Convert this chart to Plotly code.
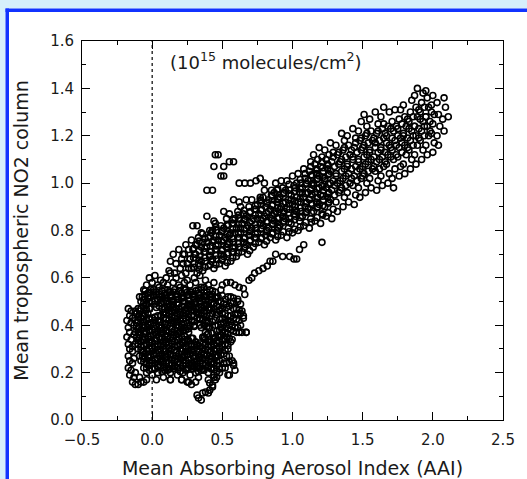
import plotly.graph_objects as go

# ---------------- data ----------------
# dense core of the cloud, upper half
core_hi_x = [-0.02, 0.02, 0.06, 0.10, 0.13, 0.17, 0.21, 0.25, 0.30, 0.34, 0.38,
             -0.04, 0.00, 0.04, 0.08, 0.11, 0.15, 0.19, 0.23, 0.27, 0.31, 0.35, 0.40, 0.44,
             -0.06, -0.02, 0.01, 0.05, 0.09, 0.12, 0.16, 0.20, 0.24, 0.28, 0.33, 0.37, 0.41, 0.45, 0.49,
             -0.09, -0.05, -0.01, 0.03, 0.07, 0.10, 0.14, 0.18, 0.22, 0.26, 0.30, 0.34, 0.38, 0.43, 0.47, 0.52, 0.56, 0.61,
             -0.08, -0.04, 0.00, 0.04, 0.08, 0.12, 0.15, 0.19, 0.23, 0.27, 0.31, 0.36, 0.40, 0.44, 0.49, 0.53, 0.58, 0.63,
             -0.10, -0.06, -0.02, 0.05, 0.09, 0.13, 0.17, 0.21, 0.25, 0.29, 0.33, 0.37, 0.42, 0.46, 0.50, 0.55, 0.60, 0.64,
             -0.11, -0.07, -0.03, 0.06, 0.10, 0.14, 0.18, 0.22, 0.26, 0.30, 0.35, 0.39, 0.43, 0.48, 0.52, 0.56, 0.61, 0.65,
             -0.12, -0.08, -0.04, 0.00, 0.04, 0.08, 0.12, 0.16, 0.20, 0.24, 0.28, 0.32, 0.36, 0.40, 0.45, 0.50, 0.54, 0.58, 0.62,
             -0.13, -0.09, -0.05, -0.01, 0.03, 0.07, 0.11, 0.15, 0.19, 0.23, 0.27, 0.37, 0.41, 0.47, 0.51, 0.55, 0.59, 0.63]
core_hi_y = [0.60, 0.61, 0.59, 0.60, 0.62, 0.60, 0.61, 0.59, 0.60, 0.61, 0.59,
             0.57, 0.58, 0.57, 0.58, 0.57, 0.58, 0.57, 0.58, 0.57, 0.58, 0.56, 0.57, 0.58,
             0.55, 0.54, 0.55, 0.56, 0.55, 0.54, 0.55, 0.56, 0.55, 0.54, 0.55, 0.56, 0.55, 0.54, 0.55,
             0.52, 0.53, 0.52, 0.53, 0.52, 0.53, 0.52, 0.53, 0.52, 0.53, 0.52, 0.53, 0.52, 0.53, 0.52, 0.51, 0.52, 0.51,
             0.50, 0.49, 0.50, 0.51, 0.50, 0.49, 0.50, 0.51, 0.50, 0.49, 0.50, 0.51, 0.50, 0.49, 0.50, 0.49, 0.50, 0.49,
             0.47, 0.48, 0.47, 0.48, 0.47, 0.48, 0.47, 0.48, 0.47, 0.48, 0.47, 0.48, 0.47, 0.48, 0.47, 0.48, 0.47, 0.46,
             0.45, 0.44, 0.45, 0.44, 0.45, 0.46, 0.45, 0.44, 0.45, 0.46, 0.45, 0.44, 0.45, 0.46, 0.45, 0.44, 0.45, 0.44,
             0.42, 0.43, 0.42, 0.43, 0.42, 0.43, 0.42, 0.43, 0.42, 0.43, 0.42, 0.43, 0.42, 0.41, 0.42, 0.43, 0.42, 0.43, 0.42,
             0.40, 0.39, 0.40, 0.41, 0.40, 0.39, 0.40, 0.41, 0.40, 0.39, 0.40, 0.40, 0.39, 0.40, 0.41, 0.40, 0.39, 0.40]

# dense core, lower half
core_lo_x = [-0.12, -0.08, -0.04, 0.00, 0.04, 0.08, 0.12, 0.16, 0.20, 0.24, 0.38, 0.48, 0.52, 0.56, 0.60, 0.64, 0.67,
             -0.11, -0.07, -0.03, 0.01, 0.05, 0.09, 0.13, 0.17, 0.21, 0.25, 0.37, 0.41, 0.45, 0.49, 0.53, 0.57,
             -0.12, -0.08, -0.04, 0.00, 0.04, 0.08, 0.12, 0.16, 0.20, 0.24, 0.28, 0.32, 0.36, 0.40, 0.44, 0.48, 0.52, 0.56,
             -0.10, -0.06, -0.02, 0.02, 0.06, 0.10, 0.14, 0.18, 0.22, 0.26, 0.30, 0.34, 0.38, 0.42, 0.46, 0.50, 0.54,
             -0.09, -0.05, -0.01, 0.03, 0.07, 0.11, 0.15, 0.19, 0.23, 0.27, 0.31, 0.35, 0.39, 0.43, 0.47, 0.51, 0.55,
             -0.08, -0.04, 0.00, 0.04, 0.08, 0.12, 0.16, 0.20, 0.24, 0.28, 0.32, 0.36, 0.40, 0.44, 0.48, 0.53, 0.57,
             -0.06, -0.02, 0.02, 0.06, 0.10, 0.14, 0.18, 0.22, 0.26, 0.30, 0.34, 0.38, 0.42, 0.46, 0.50, 0.58,
             -0.04, 0.00, 0.04, 0.09, 0.13, 0.18, 0.22, 0.27, 0.31, 0.35, 0.40, 0.44, 0.48, 0.55,
             0.03, 0.08, 0.13, 0.21, 0.26, 0.33, 0.40, 0.46,
             0.30, 0.34, 0.29, 0.37, 0.31]
core_lo_y = [0.37, 0.38, 0.37, 0.38, 0.37, 0.38, 0.37, 0.38, 0.37, 0.38, 0.37, 0.38, 0.37, 0.38, 0.37, 0.37, 0.37,
             0.35, 0.34, 0.35, 0.36, 0.35, 0.34, 0.35, 0.36, 0.35, 0.34, 0.35, 0.34, 0.35, 0.36, 0.35, 0.34,
             0.32, 0.33, 0.32, 0.33, 0.32, 0.33, 0.32, 0.33, 0.32, 0.31, 0.32, 0.32, 0.32, 0.33, 0.32, 0.33, 0.32, 0.33,
             0.30, 0.29, 0.30, 0.31, 0.30, 0.29, 0.30, 0.31, 0.30, 0.29, 0.30, 0.31, 0.30, 0.29, 0.30, 0.31, 0.30,
             0.27, 0.28, 0.27, 0.28, 0.27, 0.28, 0.27, 0.28, 0.27, 0.28, 0.27, 0.28, 0.27, 0.28, 0.27, 0.28, 0.27,
             0.25, 0.24, 0.25, 0.26, 0.25, 0.24, 0.25, 0.26, 0.25, 0.24, 0.25, 0.26, 0.25, 0.24, 0.25, 0.24, 0.25,
             0.22, 0.23, 0.22, 0.23, 0.22, 0.23, 0.22, 0.23, 0.22, 0.23, 0.22, 0.23, 0.22, 0.23, 0.22, 0.23,
             0.20, 0.19, 0.20, 0.21, 0.20, 0.19, 0.20, 0.19, 0.20, 0.21, 0.20, 0.19, 0.20, 0.19,
             0.17, 0.18, 0.17, 0.17, 0.16, 0.18, 0.17, 0.18,
             0.395, 0.40, 0.345, 0.345, 0.33]

# extra points filling the darkest part of the core
core_fill_x = [-0.03, 0.01, 0.05, 0.09, 0.13, 0.17, 0.21, 0.25, 0.29, 0.33, 0.37, 0.41,
               -0.06, -0.02, 0.02, 0.06, 0.10, 0.14, 0.18, 0.22, 0.26, 0.30, 0.34, 0.38, 0.42, 0.46,
               -0.04, 0.07, 0.11, 0.15, 0.19, 0.23, 0.27, 0.31, 0.35, 0.39, 0.44,
               -0.09, -0.05, 0.08, 0.12, 0.16, 0.20, 0.24, 0.28, 0.32, 0.37, 0.41, 0.46,
               -0.10, -0.06, -0.02, 0.02, 0.06, 0.10, 0.14, 0.18, 0.22, 0.26, 0.30, 0.34, 0.38,
               -0.11, -0.07, -0.03, 0.01, 0.05, 0.09, 0.13, 0.17, 0.21, 0.25, 0.39, 0.49, 0.53,
               -0.10, -0.06, -0.02, 0.02, 0.06, 0.10, 0.14, 0.18, 0.22, 0.26, 0.40, 0.50, 0.54,
               -0.09, -0.05, -0.01, 0.03, 0.07, 0.11, 0.15, 0.19, 0.23, 0.39, 0.43, 0.47,
               -0.10, -0.06, -0.02, 0.02, 0.06, 0.10, 0.14, 0.18, 0.22, 0.26, 0.38, 0.42, 0.46, 0.50,
               -0.08, -0.04, 0.00, 0.04, 0.08, 0.12, 0.16, 0.20, 0.24, 0.28, 0.32, 0.36, 0.40, 0.44, 0.48,
               -0.07, -0.03, 0.01, 0.05, 0.09, 0.13, 0.17, 0.21, 0.25, 0.29, 0.33, 0.37, 0.41, 0.45,
               -0.06, -0.02, 0.02, 0.06, 0.10, 0.14, 0.18, 0.22, 0.26, 0.30, 0.34, 0.38, 0.42, 0.46,
               -0.04, 0.00, 0.04, 0.08, 0.12, 0.16, 0.20, 0.24, 0.28, 0.32, 0.36, 0.40, 0.44,
               -0.02, 0.02, 0.07, 0.11, 0.15, 0.20, 0.24, 0.29, 0.33, 0.37, 0.42, 0.46]
core_fill_y = [0.535, 0.54, 0.53, 0.535, 0.54, 0.53, 0.535, 0.54, 0.53, 0.535, 0.54, 0.53,
               0.51, 0.515, 0.505, 0.51, 0.515, 0.505, 0.51, 0.515, 0.505, 0.51, 0.515, 0.505, 0.51, 0.515,
               0.485, 0.49, 0.48, 0.485, 0.49, 0.48, 0.485, 0.49, 0.48, 0.485, 0.49,
               0.46, 0.465, 0.455, 0.46, 0.465, 0.455, 0.46, 0.465, 0.455, 0.46, 0.465, 0.455,
               0.435, 0.44, 0.43, 0.435, 0.44, 0.43, 0.435, 0.44, 0.43, 0.435, 0.44, 0.43, 0.435,
               0.41, 0.415, 0.405, 0.41, 0.415, 0.405, 0.41, 0.415, 0.405, 0.41, 0.415, 0.405, 0.41,
               0.385, 0.39, 0.38, 0.385, 0.39, 0.38, 0.385, 0.39, 0.38, 0.385, 0.39, 0.38, 0.385,
               0.36, 0.365, 0.355, 0.36, 0.365, 0.355, 0.36, 0.365, 0.355, 0.36, 0.365, 0.355,
               0.335, 0.34, 0.33, 0.335, 0.34, 0.33, 0.335, 0.34, 0.33, 0.335, 0.34, 0.33, 0.335, 0.34,
               0.31, 0.315, 0.305, 0.31, 0.315, 0.305, 0.31, 0.315, 0.305, 0.31, 0.315, 0.305, 0.31, 0.315, 0.305,
               0.285, 0.29, 0.28, 0.285, 0.29, 0.28, 0.285, 0.29, 0.28, 0.285, 0.29, 0.28, 0.285, 0.29,
               0.26, 0.265, 0.255, 0.26, 0.265, 0.255, 0.26, 0.265, 0.255, 0.26, 0.265, 0.255, 0.26, 0.265,
               0.235, 0.24, 0.23, 0.235, 0.24, 0.23, 0.235, 0.24, 0.23, 0.235, 0.24, 0.23, 0.235,
               0.21, 0.215, 0.205, 0.21, 0.215, 0.205, 0.21, 0.215, 0.205, 0.21, 0.215, 0.205]

# second layer of fill where the core is solid black
core_fill2_x = [-0.05, -0.01, 0.03, 0.07, 0.11, 0.15, 0.19, 0.23, 0.27, 0.31, 0.35, 0.39, 0.43,
                -0.07, -0.03, 0.01, 0.05, 0.09, 0.13, 0.17, 0.21, 0.25, 0.29, 0.33, 0.37, 0.41, 0.45, 0.50, 0.54, 0.58,
                -0.06, -0.02, 0.02, 0.06, 0.10, 0.14, 0.18, 0.22, 0.26, 0.30, 0.34, 0.38, 0.42, 0.47, 0.51, 0.56, 0.61,
                -0.08, -0.04, 0.03, 0.07, 0.11, 0.15, 0.19, 0.23, 0.27, 0.31, 0.35, 0.40, 0.44, 0.48, 0.53, 0.58, 0.62,
                -0.09, -0.05, 0.04, 0.08, 0.12, 0.16, 0.20, 0.24, 0.28, 0.33, 0.37, 0.41, 0.46, 0.50, 0.54, 0.59, 0.63,
                -0.10, -0.06, -0.02, 0.02, 0.06, 0.10, 0.14, 0.18, 0.22, 0.26, 0.30, 0.34, 0.38, 0.43, 0.48, 0.52, 0.56, 0.60,
                -0.11, -0.07, -0.03, 0.01, 0.05, 0.09, 0.13, 0.17, 0.21, 0.25, 0.30, 0.35, 0.39, 0.45, 0.49, 0.53, 0.57, 0.61,
                -0.10, -0.06, -0.02, 0.02, 0.06, 0.10, 0.14, 0.18, 0.22, 0.26, 0.40, 0.46, 0.50, 0.54, 0.58, 0.62,
                -0.09, -0.05, -0.01, 0.03, 0.07, 0.11, 0.15, 0.19, 0.23, 0.28, 0.36, 0.40, 0.44, 0.48, 0.52, 0.55,
                -0.10, -0.06, -0.02, 0.02, 0.06, 0.10, 0.14, 0.18, 0.22, 0.26, 0.30, 0.34, 0.38, 0.42, 0.46, 0.50, 0.54,
                -0.08, -0.04, 0.00, 0.04, 0.08, 0.12, 0.16, 0.20, 0.24, 0.28, 0.32, 0.36, 0.40, 0.44, 0.48, 0.52,
                -0.07, -0.03, 0.01, 0.05, 0.09, 0.13, 0.17, 0.21, 0.25, 0.29, 0.33, 0.37, 0.41, 0.45, 0.49, 0.53,
                -0.06, -0.02, 0.02, 0.06, 0.10, 0.14, 0.18, 0.22, 0.26, 0.30, 0.34, 0.38, 0.42, 0.46, 0.51, 0.55,
                -0.04, 0.00, 0.04, 0.08, 0.12, 0.16, 0.20, 0.24, 0.28, 0.32, 0.36, 0.40, 0.44, 0.48]
core_fill2_y = [0.545, 0.55, 0.54, 0.545, 0.55, 0.54, 0.545, 0.55, 0.54, 0.545, 0.55, 0.54, 0.545,
                0.52, 0.515, 0.525, 0.52, 0.515, 0.525, 0.52, 0.515, 0.525, 0.52, 0.515, 0.525, 0.52, 0.515, 0.525, 0.52, 0.515,
                0.495, 0.50, 0.49, 0.495, 0.50, 0.49, 0.495, 0.50, 0.49, 0.495, 0.50, 0.49, 0.495, 0.50, 0.49, 0.495, 0.50,
                0.47, 0.465, 0.475, 0.47, 0.465, 0.475, 0.47, 0.465, 0.475, 0.47, 0.465, 0.475, 0.47, 0.465, 0.475, 0.47, 0.465,
                0.445, 0.45, 0.44, 0.445, 0.45, 0.44, 0.445, 0.45, 0.44, 0.445, 0.45, 0.44, 0.445, 0.45, 0.44, 0.445, 0.45,
                0.42, 0.415, 0.425, 0.42, 0.415, 0.425, 0.42, 0.415, 0.425, 0.42, 0.415, 0.425, 0.42, 0.415, 0.425, 0.42, 0.415, 0.425,
                0.395, 0.40, 0.39, 0.395, 0.40, 0.39, 0.395, 0.40, 0.39, 0.395, 0.40, 0.39, 0.395, 0.40, 0.39, 0.395, 0.40, 0.39,
                0.37, 0.365, 0.375, 0.37, 0.365, 0.375, 0.37, 0.365, 0.375, 0.37, 0.365, 0.375, 0.37, 0.365, 0.375, 0.37,
                0.345, 0.35, 0.34, 0.345, 0.35, 0.34, 0.345, 0.35, 0.34, 0.345, 0.35, 0.34, 0.345, 0.35, 0.34, 0.345,
                0.32, 0.315, 0.325, 0.32, 0.315, 0.325, 0.32, 0.315, 0.325, 0.32, 0.315, 0.325, 0.32, 0.315, 0.325, 0.32, 0.315,
                0.295, 0.30, 0.29, 0.295, 0.30, 0.29, 0.295, 0.30, 0.29, 0.295, 0.30, 0.29, 0.295, 0.30, 0.29, 0.295,
                0.27, 0.265, 0.275, 0.27, 0.265, 0.275, 0.27, 0.265, 0.275, 0.27, 0.265, 0.275, 0.27, 0.265, 0.275, 0.27,
                0.245, 0.25, 0.24, 0.245, 0.25, 0.24, 0.245, 0.25, 0.24, 0.245, 0.25, 0.24, 0.245, 0.25, 0.24, 0.245,
                0.22, 0.215, 0.225, 0.22, 0.215, 0.225, 0.22, 0.215, 0.225, 0.22, 0.215, 0.225, 0.22, 0.215]

# left-hand column and low points of the cloud
edge_x = [-0.17, -0.15, -0.16, -0.18, -0.15, -0.17, -0.16, -0.18, -0.15, -0.17, -0.16, -0.14, -0.17,
          -0.16, -0.14, -0.17, -0.15, -0.16, -0.13, -0.14, -0.12, -0.10, -0.08, -0.06, -0.04, -0.09,
          -0.12, -0.13, -0.14, -0.13, -0.14, -0.12,
          0.13, 0.21, 0.25, 0.28, 0.31,
          0.32, 0.33, 0.36, 0.38, 0.40, 0.41, 0.43, 0.43, 0.41, 0.45, 0.44, 0.35,
          0.50, 0.53, 0.56, 0.59, 0.62, 0.65, 0.66, 0.58, 0.59, 0.54, 0.52, 0.65, 0.67]
edge_y = [0.47, 0.46, 0.44, 0.42, 0.41, 0.39, 0.37, 0.35, 0.34, 0.32, 0.30, 0.29, 0.27,
          0.25, 0.24, 0.22, 0.21, 0.19, 0.18, 0.16, 0.15, 0.15, 0.16, 0.16, 0.17, 0.18,
          0.20, 0.26, 0.31, 0.36, 0.43, 0.46,
          0.17, 0.17, 0.16, 0.15, 0.16,
          0.105, 0.093, 0.114, 0.118, 0.114, 0.126, 0.139, 0.147, 0.156, 0.17, 0.18, 0.084,
          0.57, 0.58, 0.58, 0.57, 0.56, 0.555, 0.53, 0.24, 0.21, 0.19, 0.22, 0.43, 0.37]

# main rising band (x, y pairs)
band_pts = [
    (0.12, 0.63), (0.13, 0.67), (0.16, 0.62), (0.17, 0.66), (0.15, 0.70),
    (0.20, 0.64), (0.21, 0.68), (0.19, 0.72), (0.24, 0.62), (0.25, 0.66), (0.23, 0.70), (0.24, 0.74),
    (0.28, 0.64), (0.27, 0.68), (0.29, 0.72), (0.28, 0.76),
    (0.32, 0.62), (0.33, 0.66), (0.31, 0.70), (0.32, 0.74), (0.33, 0.77),
    (0.36, 0.63), (0.35, 0.67), (0.37, 0.71), (0.36, 0.75), (0.35, 0.79),
    (0.40, 0.65), (0.41, 0.69), (0.39, 0.73), (0.40, 0.77), (0.41, 0.80),
    (0.44, 0.64), (0.43, 0.68), (0.45, 0.72), (0.44, 0.76), (0.43, 0.80), (0.45, 0.83),
    (0.48, 0.66), (0.49, 0.70), (0.47, 0.74), (0.48, 0.78), (0.49, 0.82),
    (0.52, 0.65), (0.51, 0.69), (0.53, 0.73), (0.52, 0.77), (0.51, 0.81), (0.53, 0.85),
    (0.56, 0.67), (0.57, 0.71), (0.55, 0.75), (0.56, 0.79), (0.57, 0.83), (0.55, 0.87),
    (0.60, 0.69), (0.59, 0.73), (0.61, 0.77), (0.60, 0.81), (0.59, 0.85), (0.61, 0.88),
    (0.64, 0.71), (0.65, 0.75), (0.63, 0.79), (0.64, 0.83), (0.65, 0.87), (0.63, 0.90),
    (0.68, 0.70), (0.67, 0.74), (0.69, 0.78), (0.68, 0.82), (0.67, 0.86), (0.69, 0.90),
    (0.72, 0.73), (0.73, 0.77), (0.71, 0.81), (0.72, 0.85), (0.73, 0.89), (0.71, 0.93),
    (0.76, 0.75), (0.75, 0.79), (0.77, 0.83), (0.76, 0.87), (0.75, 0.91), (0.77, 0.94),
    (0.80, 0.74), (0.81, 0.78), (0.79, 0.82), (0.80, 0.86), (0.81, 0.90), (0.79, 0.94), (0.80, 0.97),
    (0.84, 0.77), (0.83, 0.81), (0.85, 0.85), (0.84, 0.89), (0.83, 0.93), (0.85, 0.97),
    (0.88, 0.76), (0.89, 0.80), (0.87, 0.84), (0.88, 0.88), (0.89, 0.92), (0.87, 0.96), (0.88, 1.00),
    (0.92, 0.78), (0.91, 0.82), (0.93, 0.86), (0.92, 0.90), (0.91, 0.94), (0.93, 0.98), (0.92, 1.01),
    (0.96, 0.77), (0.97, 0.81), (0.95, 0.85), (0.96, 0.89), (0.97, 0.93), (0.95, 0.97), (0.96, 1.01),
    (1.00, 0.79), (0.99, 0.83), (1.01, 0.87), (1.00, 0.91), (0.99, 0.95), (1.01, 0.99), (1.00, 1.03),
    (1.04, 0.80), (1.05, 0.84), (1.03, 0.88), (1.04, 0.92), (1.05, 0.96), (1.03, 1.00), (1.04, 1.04),
    (1.08, 0.82), (1.07, 0.86), (1.09, 0.90), (1.08, 0.94), (1.07, 0.98), (1.09, 1.02), (1.08, 1.06),
    (1.12, 0.81), (1.13, 0.85), (1.11, 0.89), (1.12, 0.93), (1.13, 0.97), (1.11, 1.01), (1.12, 1.05), (1.13, 1.09),
    (1.16, 0.84), (1.15, 0.88), (1.17, 0.92), (1.16, 0.96), (1.15, 1.00), (1.17, 1.04), (1.16, 1.08), (1.15, 1.12),
    (1.20, 0.83), (1.21, 0.87), (1.19, 0.91), (1.20, 0.95), (1.21, 0.99), (1.19, 1.03), (1.20, 1.07), (1.21, 1.11), (1.19, 1.15),
    (1.24, 0.86), (1.23, 0.90), (1.25, 0.94), (1.24, 0.98), (1.23, 1.02), (1.25, 1.06), (1.24, 1.10), (1.23, 1.14),
    (1.28, 0.85), (1.29, 0.89), (1.27, 0.93), (1.28, 0.97), (1.29, 1.01), (1.27, 1.05), (1.28, 1.09), (1.29, 1.13), (1.27, 1.17),
    (1.32, 0.88), (1.31, 0.92), (1.33, 0.96), (1.32, 1.00), (1.31, 1.04), (1.33, 1.08), (1.32, 1.12), (1.31, 1.16),
    (1.36, 0.90), (1.37, 0.94), (1.35, 0.98), (1.36, 1.02), (1.37, 1.06), (1.35, 1.10), (1.36, 1.14), (1.37, 1.18), (1.35, 1.21),
    (1.40, 0.92), (1.39, 0.96), (1.41, 1.00), (1.40, 1.04), (1.39, 1.08), (1.41, 1.12), (1.40, 1.16), (1.39, 1.20),
    (1.44, 0.91), (1.45, 0.95), (1.43, 0.99), (1.44, 1.03), (1.45, 1.07), (1.43, 1.11), (1.44, 1.15), (1.45, 1.19), (1.43, 1.23),
    (1.48, 0.94), (1.47, 0.98), (1.49, 1.02), (1.48, 1.06), (1.47, 1.10), (1.49, 1.14), (1.48, 1.18), (1.47, 1.22), (1.49, 1.26),
    (1.52, 0.96), (1.53, 1.00), (1.51, 1.04), (1.52, 1.08), (1.53, 1.12), (1.51, 1.16), (1.52, 1.20), (1.53, 1.24), (1.51, 1.29),
    (1.56, 0.98), (1.55, 1.02), (1.57, 1.06), (1.56, 1.10), (1.55, 1.14), (1.57, 1.18), (1.56, 1.22), (1.55, 1.27),
    (1.60, 0.97), (1.61, 1.01), (1.59, 1.05), (1.60, 1.09), (1.61, 1.13), (1.59, 1.17), (1.60, 1.21), (1.61, 1.25), (1.59, 1.30),
    (1.64, 0.99), (1.63, 1.03), (1.65, 1.07), (1.64, 1.11), (1.63, 1.15), (1.65, 1.19), (1.64, 1.23), (1.63, 1.28), (1.65, 1.32),
    (1.68, 1.00), (1.69, 1.04), (1.67, 1.08), (1.68, 1.12), (1.69, 1.16), (1.67, 1.20), (1.68, 1.24), (1.69, 1.30),
    (1.72, 0.98), (1.71, 1.02), (1.73, 1.06), (1.72, 1.10), (1.71, 1.14), (1.73, 1.18), (1.72, 1.22), (1.71, 1.26), (1.73, 1.31),
    (1.76, 1.03), (1.77, 1.07), (1.75, 1.11), (1.76, 1.15), (1.77, 1.19), (1.75, 1.23), (1.76, 1.27), (1.77, 1.31),
    (1.80, 1.04), (1.79, 1.08), (1.81, 1.12), (1.80, 1.16), (1.79, 1.20), (1.81, 1.24), (1.80, 1.28), (1.79, 1.33),
    (1.84, 1.06), (1.85, 1.10), (1.83, 1.14), (1.84, 1.18), (1.85, 1.22), (1.83, 1.26), (1.84, 1.30), (1.85, 1.35),
    (1.88, 1.08), (1.87, 1.12), (1.89, 1.16), (1.88, 1.20), (1.87, 1.24), (1.89, 1.28), (1.88, 1.32), (1.87, 1.37), (1.89, 1.40),
    (1.92, 1.10), (1.93, 1.14), (1.91, 1.18), (1.92, 1.22), (1.93, 1.26), (1.91, 1.30), (1.92, 1.34), (1.93, 1.38),
    (1.96, 1.12), (1.95, 1.16), (1.97, 1.20), (1.96, 1.24), (1.95, 1.28), (1.97, 1.32), (1.96, 1.36), (1.95, 1.39),
    (2.00, 1.13), (2.01, 1.17), (1.99, 1.21), (2.00, 1.25), (2.01, 1.29), (1.99, 1.33), (2.00, 1.37),
    (2.04, 1.16), (2.03, 1.20), (2.05, 1.24), (2.04, 1.29), (2.03, 1.34),
    (2.08, 1.22), (2.07, 1.27), (2.09, 1.32), (2.08, 1.36), (2.11, 1.28),
]

# denser ridge in the middle of the band (x, y pairs)
ridge_pts = [
    (0.22, 0.66), (0.22, 0.70), (0.26, 0.64), (0.27, 0.68), (0.26, 0.72),
    (0.30, 0.66), (0.30, 0.70), (0.31, 0.74), (0.34, 0.65), (0.34, 0.69), (0.35, 0.73),
    (0.38, 0.67), (0.38, 0.71), (0.39, 0.75), (0.42, 0.67), (0.42, 0.71), (0.43, 0.75), (0.42, 0.79),
    (0.46, 0.68), (0.46, 0.72), (0.47, 0.76), (0.46, 0.80), (0.50, 0.68), (0.50, 0.72), (0.51, 0.76), (0.50, 0.80),
    (0.54, 0.70), (0.54, 0.74), (0.55, 0.78), (0.54, 0.82), (0.58, 0.71), (0.58, 0.75), (0.59, 0.79), (0.58, 0.83),
    (0.62, 0.73), (0.62, 0.77), (0.63, 0.81), (0.62, 0.85), (0.66, 0.73), (0.66, 0.77), (0.67, 0.81), (0.66, 0.85),
    (0.70, 0.76), (0.70, 0.80), (0.71, 0.84), (0.70, 0.88), (0.74, 0.77), (0.74, 0.81), (0.75, 0.85), (0.74, 0.89),
    (0.78, 0.77), (0.78, 0.81), (0.79, 0.85), (0.78, 0.89), (0.77, 0.93),
    (0.82, 0.80), (0.82, 0.84), (0.83, 0.88), (0.82, 0.92), (0.86, 0.79), (0.86, 0.83), (0.87, 0.87), (0.86, 0.91), (0.85, 0.95),
    (0.90, 0.81), (0.90, 0.85), (0.91, 0.89), (0.90, 0.93), (0.89, 0.97), (0.94, 0.84), (0.94, 0.88), (0.95, 0.92), (0.94, 0.96),
    (0.98, 0.85), (0.98, 0.89), (0.99, 0.93), (0.98, 0.97), (1.02, 0.86), (1.02, 0.90), (1.03, 0.94), (1.02, 0.98),
    (1.06, 0.88), (1.06, 0.92), (1.07, 0.96), (1.06, 1.00), (1.10, 0.88), (1.10, 0.92), (1.11, 0.96), (1.10, 1.00), (1.09, 1.04),
    (1.14, 0.91), (1.14, 0.95), (1.15, 0.99), (1.14, 1.03), (1.13, 1.07),
    (1.18, 0.90), (1.18, 0.94), (1.19, 0.98), (1.18, 1.02), (1.17, 1.06), (1.18, 1.10),
    (1.22, 0.93), (1.22, 0.97), (1.23, 1.01), (1.22, 1.05), (1.21, 1.09),
    (1.26, 0.92), (1.26, 0.96), (1.27, 1.00), (1.26, 1.04), (1.25, 1.08), (1.26, 1.12),
    (1.30, 0.95), (1.30, 0.99), (1.31, 1.03), (1.30, 1.07), (1.29, 1.11),
    (1.34, 0.97), (1.34, 1.01), (1.35, 1.05), (1.34, 1.09), (1.33, 1.13),
    (1.38, 0.99), (1.38, 1.03), (1.39, 1.07), (1.38, 1.11), (1.37, 1.15),
    (1.42, 1.02), (1.42, 1.06), (1.43, 1.10), (1.42, 1.14),
    (1.46, 1.01), (1.46, 1.05), (1.47, 1.09), (1.46, 1.13), (1.45, 1.17),
    (1.50, 1.03), (1.50, 1.07), (1.51, 1.11), (1.50, 1.15), (1.49, 1.19),
    (1.54, 1.05), (1.54, 1.09), (1.55, 1.13), (1.54, 1.17), (1.53, 1.21),
    (1.58, 1.07), (1.58, 1.11), (1.59, 1.15), (1.58, 1.19),
    (1.62, 1.06), (1.62, 1.10), (1.63, 1.14), (1.62, 1.18), (1.61, 1.22),
    (1.66, 1.09), (1.66, 1.13), (1.67, 1.17), (1.66, 1.21), (1.65, 1.25),
    (1.70, 1.11), (1.70, 1.15), (1.71, 1.19), (1.70, 1.23), (1.74, 1.12), (1.74, 1.16), (1.75, 1.20), (1.74, 1.24),
    (1.78, 1.13), (1.78, 1.17), (1.79, 1.21), (1.78, 1.25), (1.82, 1.15), (1.82, 1.19), (1.83, 1.23), (1.82, 1.27),
    (1.86, 1.16), (1.86, 1.20), (1.87, 1.24), (1.86, 1.28), (1.90, 1.19), (1.90, 1.23), (1.91, 1.27), (1.90, 1.31),
    (1.94, 1.20), (1.94, 1.24), (1.95, 1.28), (1.94, 1.32), (1.98, 1.22), (1.98, 1.26), (1.99, 1.30),
]

# darkest stretch of the band, between AAI 0.3 and 1.25
dark_band_x = [0.295, 0.295, 0.295,
               0.335, 0.335, 0.335, 0.335,
               0.375, 0.375, 0.375, 0.375,
               0.415, 0.415, 0.415, 0.415,
               0.455, 0.455, 0.455, 0.455, 0.455,
               0.495, 0.495, 0.495, 0.495,
               0.535, 0.535, 0.535, 0.535, 0.535,
               0.575, 0.575, 0.575, 0.575, 0.575,
               0.615, 0.615, 0.615, 0.615, 0.615,
               0.655, 0.655, 0.655, 0.655, 0.655,
               0.695, 0.695, 0.695, 0.695, 0.695,
               0.735, 0.735, 0.735, 0.735, 0.735,
               0.775, 0.775, 0.775, 0.775, 0.775,
               0.815, 0.815, 0.815, 0.815, 0.815,
               0.855, 0.855, 0.855, 0.855, 0.855,
               0.895, 0.895, 0.895, 0.895, 0.895, 0.895,
               0.935, 0.935, 0.935, 0.935, 0.935,
               0.975, 0.975, 0.975, 0.975, 0.975, 0.975,
               1.015, 1.015, 1.015, 1.015, 1.015,
               1.055, 1.055, 1.055, 1.055, 1.055, 1.055,
               1.095, 1.095, 1.095, 1.095, 1.095,
               1.135, 1.135, 1.135, 1.135, 1.135, 1.135,
               1.175, 1.175, 1.175, 1.175, 1.175, 1.175,
               1.215, 1.215, 1.215, 1.215, 1.215, 1.215,
               1.255, 1.255, 1.255, 1.255, 1.255, 1.255]
dark_band_y = [0.645, 0.685, 0.725,
               0.635, 0.675, 0.715, 0.755,
               0.645, 0.685, 0.725, 0.765,
               0.655, 0.695, 0.735, 0.775,
               0.655, 0.695, 0.735, 0.775, 0.815,
               0.675, 0.715, 0.755, 0.795,
               0.665, 0.705, 0.745, 0.785, 0.825,
               0.685, 0.725, 0.765, 0.805, 0.845,
               0.705, 0.745, 0.785, 0.825, 0.865,
               0.725, 0.765, 0.805, 0.845, 0.885,
               0.715, 0.755, 0.795, 0.835, 0.875,
               0.745, 0.785, 0.825, 0.865, 0.905,
               0.765, 0.805, 0.845, 0.885, 0.925,
               0.755, 0.795, 0.835, 0.875, 0.915,
               0.785, 0.825, 0.865, 0.905, 0.945,
               0.775, 0.815, 0.855, 0.895, 0.935, 0.975,
               0.795, 0.835, 0.875, 0.915, 0.955,
               0.795, 0.835, 0.875, 0.915, 0.955, 0.995,
               0.805, 0.845, 0.885, 0.925, 0.965,
               0.815, 0.855, 0.895, 0.935, 0.975, 1.015,
               0.835, 0.875, 0.915, 0.955, 0.995,
               0.835, 0.875, 0.915, 0.955, 0.995, 1.035,
               0.855, 0.895, 0.935, 0.975, 1.015, 1.055,
               0.865, 0.905, 0.945, 0.985, 1.025, 1.065,
               0.875, 0.915, 0.955, 0.995, 1.035, 1.075]

# scattered points above and below the band
stray_pts = [
    (0.45, 1.12), (0.47, 1.12), (0.44, 1.07), (0.51, 1.07), (0.55, 1.09), (0.58, 1.09),
    (0.49, 1.03), (0.51, 1.03), (0.62, 1.00), (0.66, 1.00), (0.70, 1.00), (0.74, 1.01),
    (0.77, 1.02), (0.80, 1.00), (0.39, 0.97), (0.43, 0.97), (0.58, 0.93), (0.62, 0.92),
    (0.67, 0.93), (0.51, 0.88), (0.39, 0.86), (0.44, 0.84), (0.29, 0.82), (0.32, 0.82),
    (0.36, 0.785), (0.43, 0.80),
    (0.69, 0.59), (0.71, 0.60), (0.73, 0.62), (0.76, 0.63), (0.79, 0.64), (0.82, 0.65),
    (0.84, 0.67), (0.86, 0.67), (0.88, 0.70), (0.93, 0.69), (0.98, 0.69), (1.01, 0.68),
    (1.03, 0.68), (1.05, 0.72), (1.08, 0.74), (1.21, 0.75),
]

x_ticks = [-0.5, 0.0, 0.5, 1.0, 1.5, 2.0, 2.5]
y_ticks = [0.0, 0.2, 0.4, 0.6, 0.8, 1.0, 1.2, 1.4, 1.6]
x_title = "Mean Absorbing Aerosol Index (AAI)"
y_title = "Mean tropospheric NO2 column"
unit_note = "(10<sup>15</sup> molecules/cm<sup>2</sup>)"

# ---------------- figure ----------------
pairs = band_pts + ridge_pts + stray_pts
all_x = (core_hi_x + core_lo_x + core_fill_x + core_fill2_x + edge_x + dark_band_x
         + [p[0] for p in pairs])
all_y = (core_hi_y + core_lo_y + core_fill_y + core_fill2_y + edge_y + dark_band_y
         + [p[1] for p in pairs])

FONT = "DejaVu Sans"
TXT = "#1a1a1a"

fig = go.Figure()
fig.add_trace(go.Scatter(
    x=all_x, y=all_y, mode="markers",
    marker=dict(symbol="circle-open", size=6, color="black", line=dict(width=1.6, color="black")),
    showlegend=False, hoverinfo="skip",
))

# margins place the plot box at x 82..503, y 41..420 (px)
L, R, T, B = 82, 24, 41, 59
W, H = 527, 479
pw, ph = W - L - R, H - T - B


def px(xp):
    return (xp - L) / pw


def py(yp):
    return (H - B - yp) / ph


shapes = [
    # dotted line at AAI = 0
    dict(type="line", xref="x", yref="y", x0=0, x1=0, y0=0, y1=1.6,
         line=dict(color="black", width=1.2, dash="dot"), layer="below"),
    # page frame (light blue outside, blue border top/left)
    dict(type="rect", xref="paper", yref="paper", x0=px(-5), x1=px(W + 5), y0=py(8.5), y1=py(-5),
         fillcolor="#d6effb", line=dict(width=0), layer="below"),
    dict(type="rect", xref="paper", yref="paper", x0=px(-5), x1=px(5.5), y0=py(H + 5), y1=py(-5),
         fillcolor="#d6effb", line=dict(width=0), layer="below"),
    dict(type="rect", xref="paper", yref="paper", x0=px(5.5), x1=px(W + 5), y0=py(12), y1=py(8.5),
         fillcolor="#1133ff", line=dict(width=0), layer="below"),
    dict(type="rect", xref="paper", yref="paper", x0=px(5.5), x1=px(9), y0=py(H + 5), y1=py(8.5),
         fillcolor="#1133ff", line=dict(width=0), layer="below"),
]

axis_common = dict(
    showline=True, linecolor="black", linewidth=1, mirror="allticks",
    ticks="inside", ticklen=8, tickwidth=1, tickcolor="black",
    showgrid=False, zeroline=False, automargin=False,
    tickfont=dict(family=FONT, size=15, color=TXT),
    tickformat=".1f",
)

fig.update_layout(
    width=W, height=H,
    margin=dict(l=L, r=R, t=T, b=B, pad=0),
    paper_bgcolor="white", plot_bgcolor="white",
    font=dict(family=FONT, color=TXT),
    shapes=shapes,
    xaxis=dict(range=[-0.5, 2.5], tickvals=x_ticks, ticklabelstandoff=6,
               minor=dict(dtick=0.25, ticks="inside", ticklen=4, tickcolor="black", tickwidth=1, showgrid=False),
               title=dict(text=x_title, font=dict(family=FONT, size=19, color=TXT), standoff=14),
               **axis_common),
    yaxis=dict(range=[0, 1.6], tickvals=y_ticks, ticklabelstandoff=4,
               minor=dict(dtick=0.1, ticks="inside", ticklen=4, tickcolor="black", tickwidth=1, showgrid=False),
               title=dict(text=y_title, font=dict(family=FONT, size=19, color=TXT), standoff=16),
               **axis_common),
    annotations=[dict(text=unit_note, x=0.11, y=1.515, xref="x", yref="y",
                      xanchor="left", yanchor="middle", showarrow=False,
                      font=dict(family=FONT, size=18, color=TXT))],
)

# remove the page's default body margin so the figure fills the window exactly
fig.write_html("out.html", config={"displayModeBar": False},
               post_script="document.body.style.margin='0px';document.body.style.overflow='hidden';")
